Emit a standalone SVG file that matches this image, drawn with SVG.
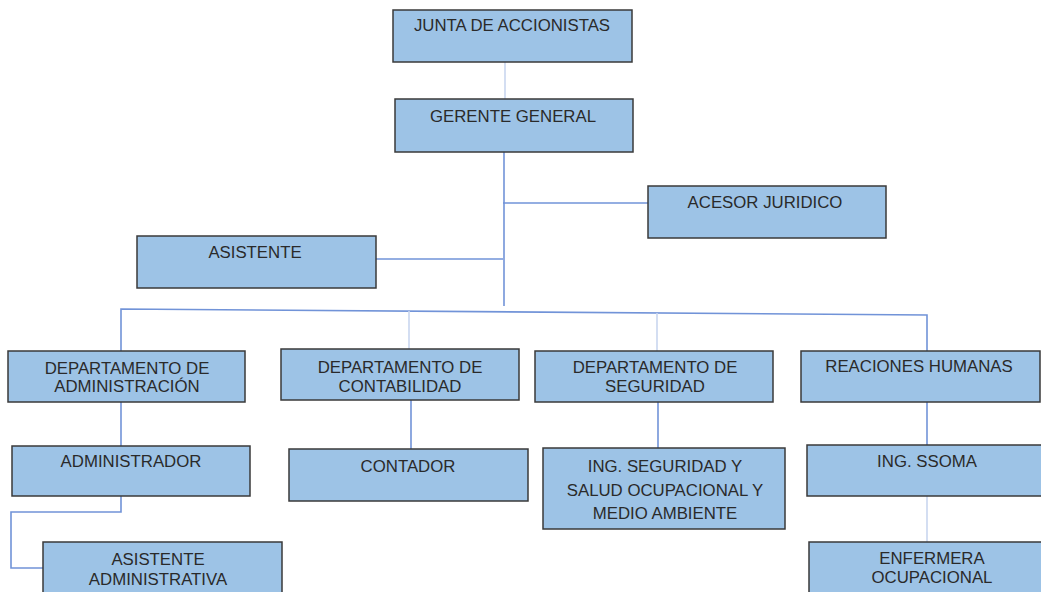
<svg xmlns="http://www.w3.org/2000/svg" width="1041" height="592" viewBox="0 0 1041 592">
<style>
.box{fill:#9dc3e6;stroke:#3a3a3a;stroke-width:1.5}
.t{font-family:"Liberation Sans",Arial,sans-serif;font-size:16.8px;fill:#2a2a2a;text-anchor:middle}
.c{fill:none;stroke:#7193d8;stroke-width:1.6}
.cl{fill:none;stroke:#c9d6ef;stroke-width:1.6}
</style>
<rect width="1041" height="592" fill="#ffffff"/>
<g id="connectors">
<line class="cl" x1="505" y1="62" x2="505" y2="99"/>
<path class="c" d="M504 152 V306"/>
<line class="c" x1="503" y1="203" x2="648" y2="203"/>
<line class="c" x1="376" y1="259" x2="503" y2="259"/>
<path class="c" d="M121 351 V309 L927 315 V351"/>
<line class="cl" x1="409" y1="311" x2="409" y2="349"/>
<line class="cl" x1="657" y1="313" x2="657" y2="351"/>
<line class="c" x1="121" y1="402" x2="121" y2="446"/>
<path class="c" d="M121 496 V512 H11 V568 H43"/>
<line class="c" x1="411" y1="400" x2="411" y2="449"/>
<line class="c" x1="658" y1="402" x2="658" y2="448"/>
<line class="c" x1="927" y1="402" x2="927" y2="445"/>
<line class="cl" x1="927" y1="496" x2="927" y2="542"/>
</g>
<g id="junta"><rect class="box" x="393" y="10" width="239" height="52"/><text class="t" x="512" y="31">JUNTA DE ACCIONISTAS</text></g>
<g id="gerente"><rect class="box" x="395" y="99" width="238" height="53"/><text class="t" x="513" y="122">GERENTE GENERAL</text></g>
<g id="acesor"><rect class="box" x="648" y="186" width="238" height="52"/><text class="t" x="765" y="208">ACESOR JURIDICO</text></g>
<g id="asistente"><rect class="box" x="137" y="236" width="239" height="52"/><text class="t" x="255" y="258">ASISTENTE</text></g>
<g id="dep-admin"><rect class="box" x="8" y="351" width="237" height="51"/><text class="t" x="127" y="374">DEPARTAMENTO DE</text><text class="t" x="127" y="392">ADMINISTRACIÓN</text></g>
<g id="dep-contab"><rect class="box" x="281" y="349" width="238" height="51"/><text class="t" x="400" y="373">DEPARTAMENTO DE</text><text class="t" x="400" y="392">CONTABILIDAD</text></g>
<g id="dep-seg"><rect class="box" x="535" y="351" width="238" height="51"/><text class="t" x="655" y="373">DEPARTAMENTO DE</text><text class="t" x="655" y="392">SEGURIDAD</text></g>
<g id="rrhh"><rect class="box" x="801" y="351" width="239" height="51"/><text class="t" x="919" y="372">REACIONES HUMANAS</text></g>
<g id="administrador"><rect class="box" x="12" y="446" width="238" height="50"/><text class="t" x="131" y="467">ADMINISTRADOR</text></g>
<g id="contador"><rect class="box" x="289" y="449" width="239" height="52"/><text class="t" x="408" y="472">CONTADOR</text></g>
<g id="ing-seg"><rect class="box" x="543" y="448" width="242" height="81"/><text class="t" x="665" y="472">ING. SEGURIDAD Y</text><text class="t" x="665" y="496">SALUD OCUPACIONAL Y</text><text class="t" x="665" y="519">MEDIO AMBIENTE</text></g>
<g id="ssoma"><rect class="box" x="807" y="445" width="240" height="51"/><text class="t" x="927" y="467">ING. SSOMA</text></g>
<g id="asist-adm"><rect class="box" x="43" y="542" width="239" height="56"/><text class="t" x="158" y="565">ASISTENTE</text><text class="t" x="158" y="585">ADMINISTRATIVA</text></g>
<g id="enfermera"><rect class="box" x="809" y="542" width="240" height="56"/><text class="t" x="932" y="564">ENFERMERA</text><text class="t" x="932" y="583">OCUPACIONAL</text></g>
</svg>
